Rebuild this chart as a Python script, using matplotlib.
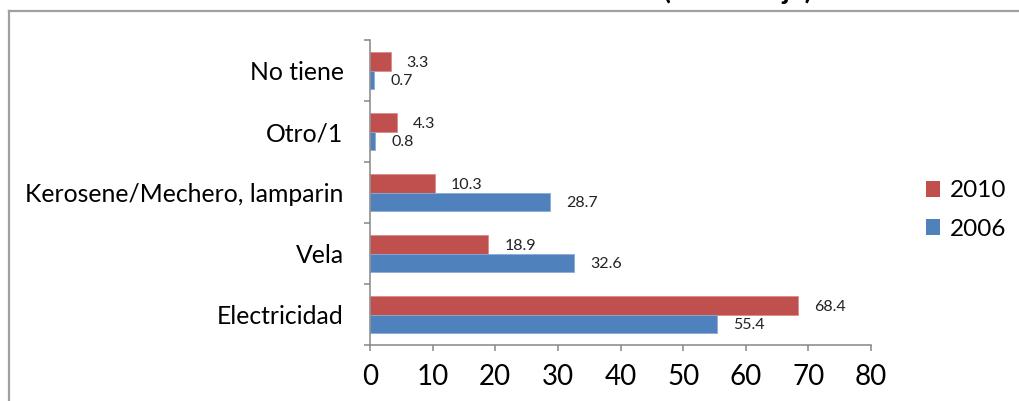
import numpy as np
import matplotlib
matplotlib.use("Agg")
import matplotlib.pyplot as plt
from matplotlib.lines import Line2D
from matplotlib.patches import Patch

categories = ["Electricidad", "Vela", "Kerosene/Mechero, lamparin", "Otro/1", "No tiene"]
values_2010 = [68.4, 18.9, 10.3, 4.3, 3.3]
values_2006 = [55.4, 32.6, 28.7, 0.8, 0.7]
x_ticks = [0, 10, 20, 30, 40, 50, 60, 70, 80]

RED = "#C0504D"
BLUE = "#4F81BD"
AXIS_GRAY = "#868686"

plt.rcParams["font.family"] = ["Lato", "DejaVu Sans"]

fig = plt.figure(figsize=(10.19, 4.01), dpi=100)
W, H = 1019, 401
ax = fig.add_axes([370 / W, 1 - 345 / H, (871 - 370) / W, (345 - 40) / H])

y = np.arange(len(categories))
bh = 0.3
ax.barh(y + bh / 2, values_2010, height=bh, color=RED, edgecolor="#D98C8A", linewidth=0.6, label="2010")
ax.barh(y - bh / 2, values_2006, height=bh, color=BLUE, edgecolor="#8AAAD6", linewidth=0.6, label="2006")

for yi, v in zip(y, values_2010):
    ax.annotate(f"{v:.1f}", (v, yi + bh / 2), xytext=(16, -1.5), textcoords="offset pixels",
                ha="left", va="center", fontsize=11.5, color="#222222")
for yi, v in zip(y, values_2006):
    ax.annotate(f"{v:.1f}", (v, yi - bh / 2), xytext=(16, -1.5), textcoords="offset pixels",
                ha="left", va="center", fontsize=11.5, color="#222222")

ax.set_xlim(0, 80)
ax.set_ylim(-0.5, len(categories) - 0.5)
ax.set_xticks(x_ticks)
ax.set_xticklabels([str(t) for t in x_ticks], fontsize=20)

ax.set_yticks(np.arange(-0.5, len(categories), 1))
ax.set_yticklabels([])
ax.set_yticks(y, minor=True)
ax.set_yticklabels(categories, minor=True, fontsize=17.8)
ax.tick_params(axis="y", which="minor", length=0, pad=19)
ax.tick_params(axis="y", which="major", length=4.5, width=1.1, color=AXIS_GRAY, direction="out")
ax.tick_params(axis="x", length=4.5, width=1.1, color=AXIS_GRAY, direction="out", pad=9)

for s in ["top", "right"]:
    ax.spines[s].set_visible(False)
for s in ["left", "bottom"]:
    ax.spines[s].set_color(AXIS_GRAY)
    ax.spines[s].set_linewidth(1.1)

handles = [Patch(facecolor=RED, label="2010"), Patch(facecolor=BLUE, label="2006")]
fig.legend(handles=handles, loc="center left", bbox_to_anchor=(904 / W, 1 - 210 / H),
           frameon=False, fontsize=17.5, handlelength=0.6, handleheight=0.6,
           handletextpad=0.4, labelspacing=0.7)

# title, mostly cut off above the picture
fig.text(812 / W, 1 + 1 / H, "TIPO DE ALUMBRADO (Porcentaje)", ha="right", va="baseline",
         fontsize=20, fontweight="bold")

# chart frame
fig.add_artist(Line2D([9 / W, 9 / W], [-0.05, 1 - 11 / H], transform=fig.transFigure,
                      color="#A0A0A0", linewidth=1.6))
fig.add_artist(Line2D([9 / W, 1.05], [1 - 11 / H, 1 - 11 / H], transform=fig.transFigure,
                      color="#A0A0A0", linewidth=1.6))

fig.savefig("out.png", dpi=100)
